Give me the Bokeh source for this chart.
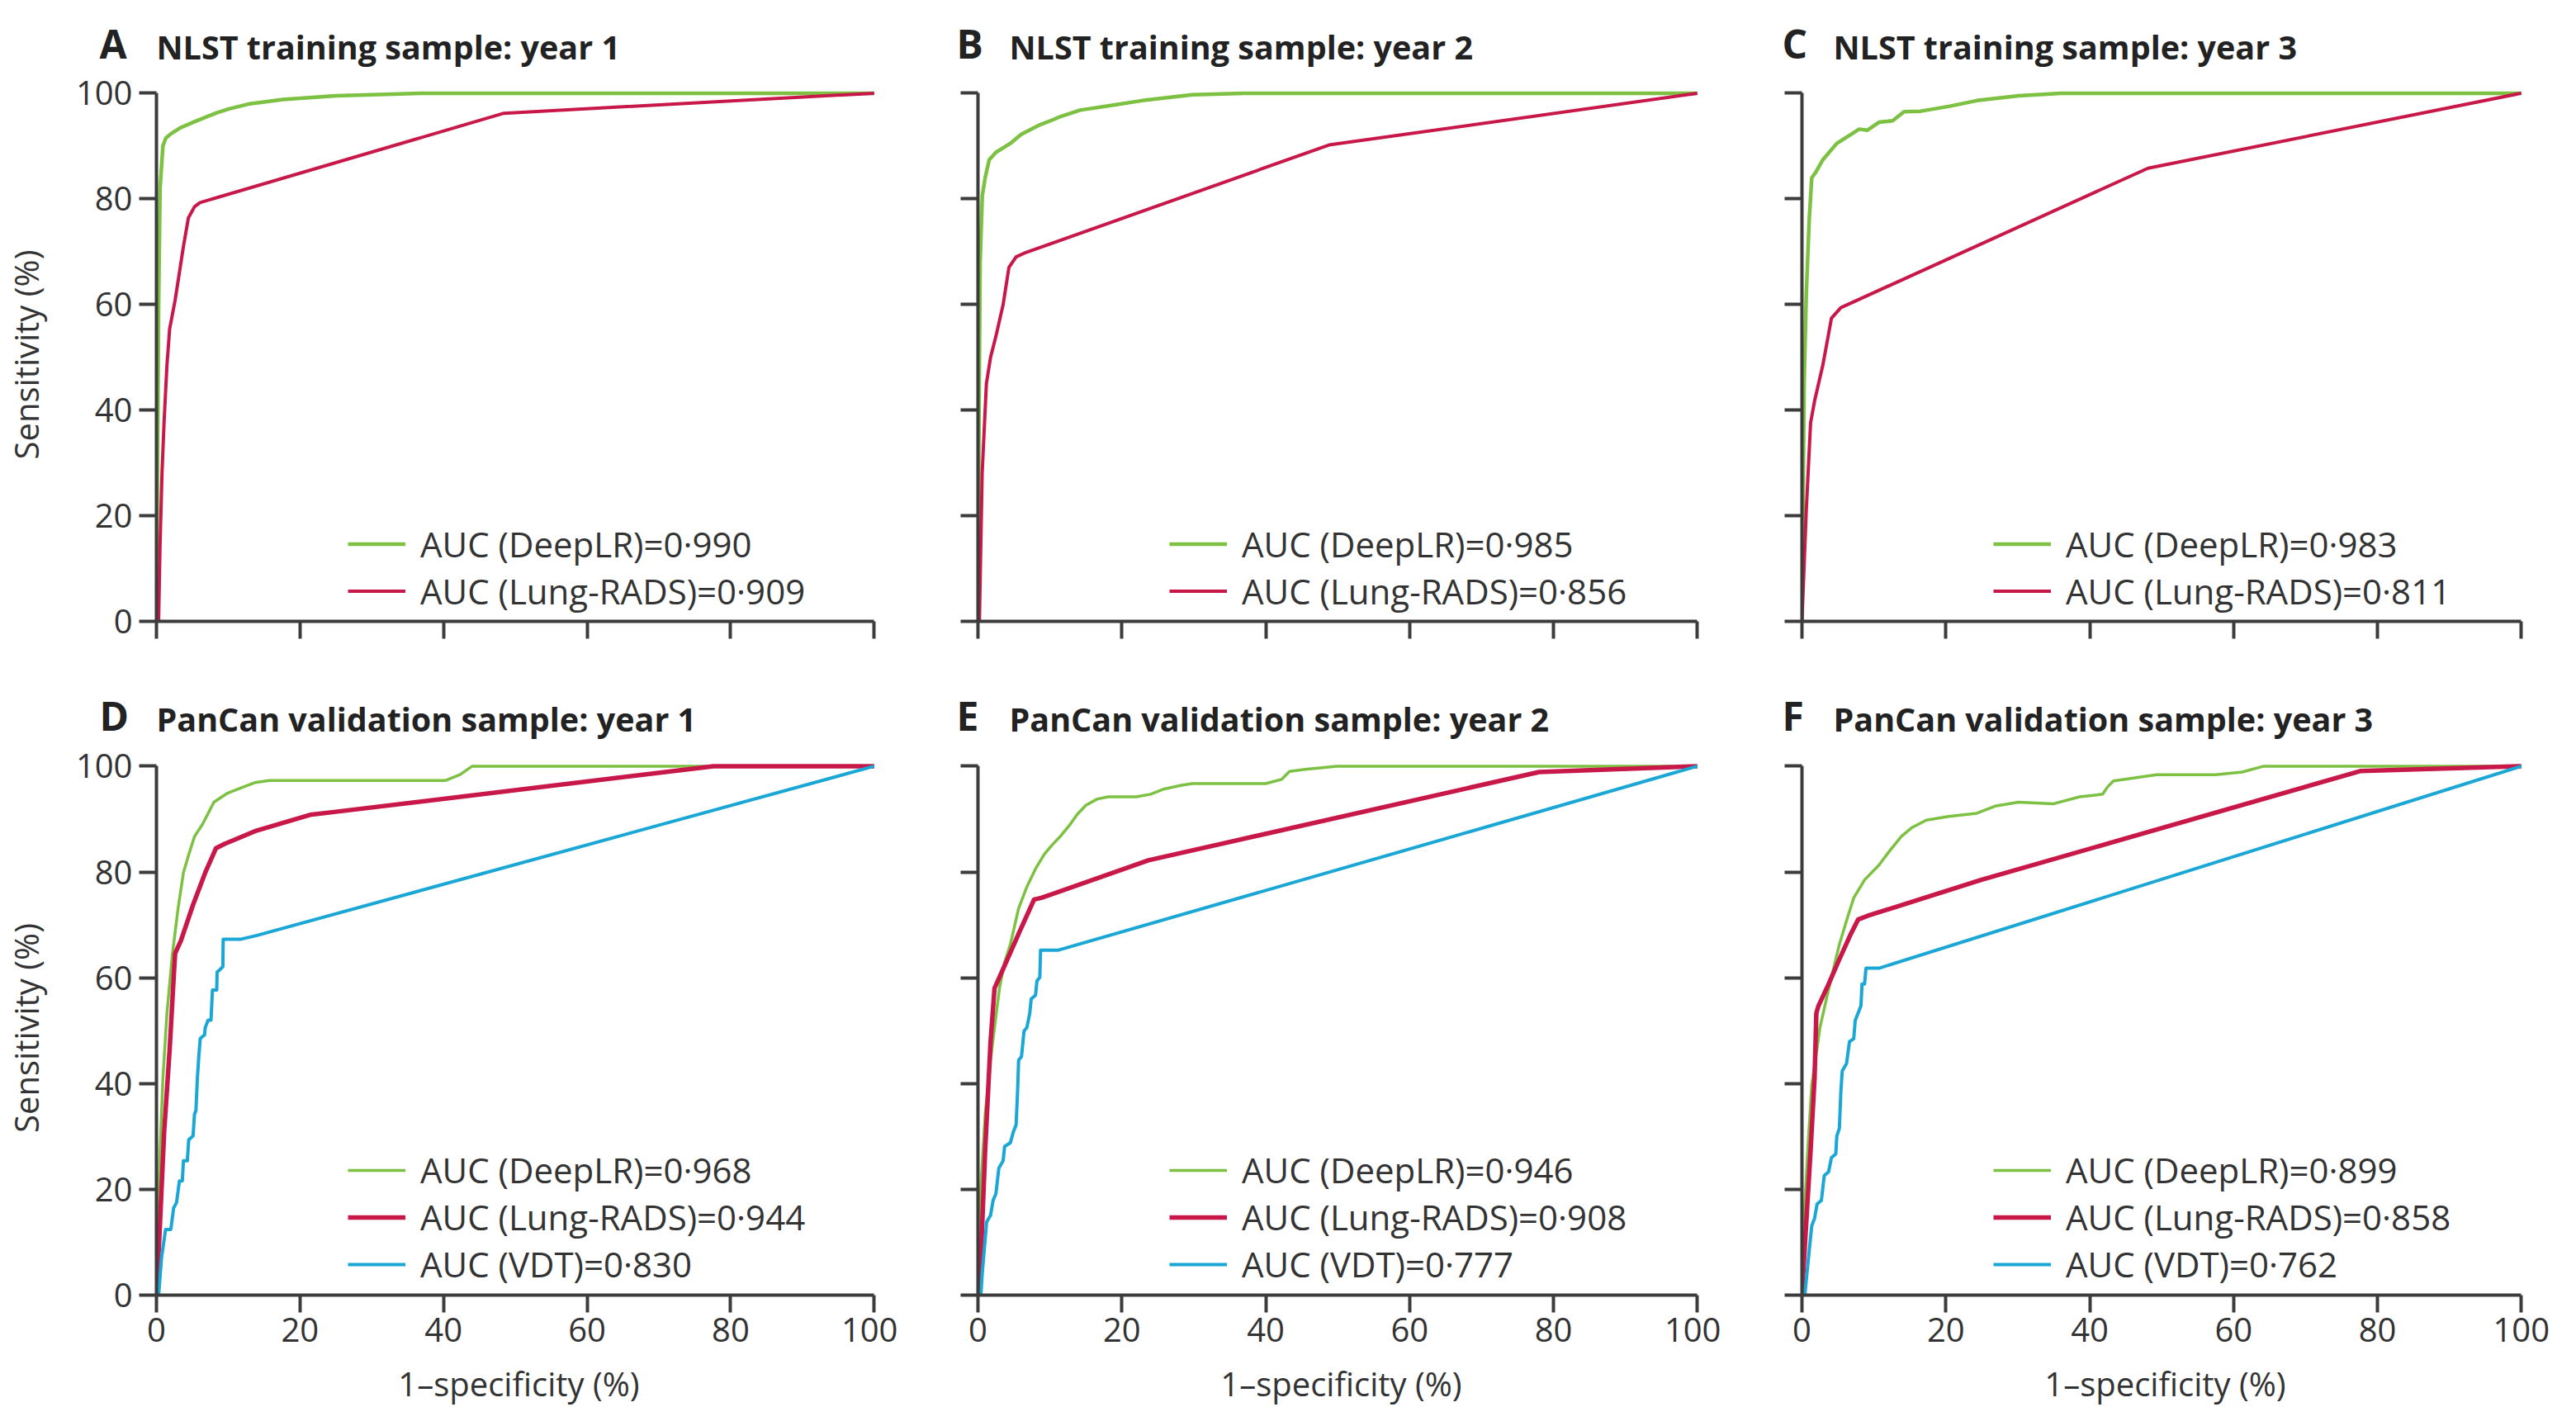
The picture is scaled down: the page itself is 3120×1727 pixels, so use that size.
from bokeh.plotting import figure
from bokeh.layouts import row, column
from bokeh.models import Range1d, Legend, LegendItem, FixedTicker
from bokeh.core.properties import value
from bokeh.embed import file_html
from bokeh.resources import INLINE

# ---------------- data ----------------
TICKS = [0, 20, 40, 60, 80, 100]

A_DEEP_X = [0, 0.3, 0.5, 0.9, 1.3, 2.0, 3.4, 5.3, 8.4, 10.0, 13.0, 17.6, 25.0, 37.0, 100]
A_DEEP_Y = [0, 60, 82, 90, 91.5, 92.3, 93.5, 94.6, 96.3, 97.0, 98.0, 98.8, 99.5, 100, 100]
A_RADS_X = [0, 0.3, 0.5, 0.77, 1.07, 1.46, 1.84, 2.6, 3.76, 4.45, 5.3, 6.07, 48.4, 100]
A_RADS_Y = [0, 0, 14.5, 28, 38, 48.5, 55.4, 60.8, 71, 76.4, 78.5, 79.3, 96.2, 100]

B_DEEP_X = [0, 0.15, 0.3, 0.6, 1.0, 1.56, 2.5, 4.5, 6.0, 8.4, 10.3, 11.5, 14.2, 18.1, 22.8, 29.8, 37.0, 100]
B_DEEP_Y = [0, 40, 68, 80.6, 84, 87.4, 88.8, 90.5, 92.2, 93.9, 94.9, 95.6, 96.8, 97.6, 98.6, 99.7, 100, 100]
B_RADS_X = [0, 0.2, 0.58, 1.17, 1.75, 2.5, 3.5, 4.3, 5.3, 6.4, 48.8, 100]
B_RADS_Y = [0, 0, 28, 45, 50, 54, 60, 67, 69, 69.7, 90.2, 100]

C_DEEP_X = [0, 0.3, 0.6, 1.0, 1.36, 1.9, 2.9, 4.85, 6.8, 7.96, 9.1, 10.7, 12.6, 14.2, 16.5, 20.4, 24.3, 30.1, 36.0, 100]
C_DEEP_Y = [0, 45, 62, 75.8, 84, 85, 87.4, 90.5, 92.2, 93.2, 93, 94.5, 94.8, 96.5, 96.6, 97.5, 98.6, 99.5, 100, 100]
C_RADS_X = [0, 0.6, 1.2, 1.75, 2.9, 4.1, 5.4, 48.1, 100]
C_RADS_Y = [0, 21, 37.6, 41.7, 48.5, 57.4, 59.4, 85.8, 100]

D_DEEP_X = [0, 0.5, 0.9, 1.46, 2.2, 3.0, 3.76, 4.5, 5.3, 6.45, 8.0, 9.9, 11.8, 13.7, 15.7, 40.3, 42.3, 44.0, 100]
D_DEEP_Y = [0, 27.4, 41, 53.3, 64.2, 73, 79.9, 83.3, 86.7, 89.1, 93.2, 94.9, 95.9, 96.9, 97.3, 97.3, 98.4, 100, 100]
D_RADS_X = [0, 0.5, 1.07, 1.84, 2.4, 2.6, 3.4, 5.1, 6.8, 8.3, 9.5, 13.7, 21.4, 24.5, 77.6, 100]
D_RADS_Y = [0, 13.8, 30.8, 46.5, 60.1, 64.6, 67, 73.8, 79.9, 84.5, 85.3, 87.7, 90.8, 91.3, 100, 100]
D_VDT_X = [0, 0.3, 0.7, 1.27, 2.0, 2.4, 2.8, 3.2, 3.6, 3.76, 4.3, 4.5, 5.1, 5.3, 5.5, 5.7, 5.9, 6.1,
           6.7, 6.8, 7.2, 7.6, 7.8, 8.4, 8.45, 8.75, 9.25, 9.3, 11.8, 14.0, 100]
D_VDT_Y = [0, 0, 7, 12.4, 12.4, 16.5, 17.5, 21.6, 21.6, 25.4, 25.4, 29.4, 30.1, 34.2, 34.9, 41, 45.1, 48.5,
           49.2, 50.6, 52, 52, 57.7, 57.7, 61.1, 61.4, 62.1, 67.3, 67.3, 68, 100]

E_DEEP_X = [0, 0.4, 1.0, 1.75, 2.3, 3.0, 3.7, 4.5, 5.65, 6.8, 8.0, 9.2, 10.3, 11.5, 12.7, 13.8, 15.0, 16.6,
            18.1, 22.0, 24.0, 25.9, 28.3, 29.8, 40.0, 42.2, 43.3, 45.5, 49.9, 100]
E_DEEP_Y = [0, 20.6, 34.2, 44.4, 50.6, 58.1, 62.9, 66.3, 73.1, 77.2, 80.6, 83.3, 85.1, 86.8, 88.8, 90.9, 92.6, 93.8,
            94.2, 94.2, 94.7, 95.7, 96.4, 96.7, 96.7, 97.5, 99, 99.4, 100, 100]
E_RADS_X = [0, 0.2, 1.0, 1.75, 2.3, 4.1, 5.65, 7.8, 8.8, 23.7, 78.0, 100]
E_RADS_Y = [0, 0, 27.4, 47.9, 58, 63.5, 68.3, 74.8, 75.1, 82.2, 98.9, 100]
E_VDT_X = [0, 0.4, 0.6, 1.2, 1.75, 2.1, 2.5, 2.9, 3.5, 3.7, 4.5, 4.9, 5.3, 5.5, 5.65, 6.05, 6.4, 6.8,
           7.2, 7.4, 8.0, 8.2, 8.6, 8.7, 11.1, 100]
E_VDT_Y = [0, 0, 4.2, 13.8, 15.1, 17.9, 19.2, 24, 25.4, 28.1, 28.8, 30.8, 32.2, 38.3, 44.4, 45.1, 49.9, 50.6,
           53.3, 56, 56.7, 59.4, 60.1, 65.2, 65.2, 100]

F_DEEP_X = [0, 0.4, 0.8, 1.36, 1.94, 2.5, 3.3, 4.1, 5.2, 6.4, 7.2, 8.7, 10.7, 12.2, 13.8, 15.3, 17.3, 20.4,
            24.3, 27.0, 30.1, 35.0, 38.6, 41.8, 42.5, 43.3, 49.3, 57.5, 61.2, 64.2, 100]
F_DEEP_Y = [0, 17.2, 27.4, 39.7, 45.1, 50.6, 55.4, 60.1, 66.3, 71.7, 75.1, 78.5, 81.3, 84, 86.7, 88.4, 89.8, 90.5,
            91.1, 92.5, 93.2, 92.9, 94.2, 94.7, 96.1, 97.2, 98.4, 98.4, 98.9, 100, 100]
F_RADS_X = [0, 0.6, 1.2, 1.75, 2.0, 2.3, 3.7, 5.2, 6.8, 7.8, 9.1, 24.9, 77.7, 100]
F_RADS_Y = [0, 13.8, 27.4, 41, 53.3, 54.7, 58.8, 63.5, 68.3, 71, 71.7, 78.5, 99.1, 100]
F_VDT_X = [0, 0.4, 0.8, 1.36, 1.75, 2.1, 2.7, 3.1, 3.7, 4.1, 4.7, 4.85, 5.2, 5.4, 5.6, 6.2, 6.6, 7.2,
           7.4, 7.8, 8.2, 8.35, 8.7, 8.9, 10.7, 100]
F_VDT_Y = [0, 0, 5.6, 13.1, 14.5, 17.2, 17.9, 22.6, 23.3, 26, 26.7, 30.1, 31.5, 38.3, 42.4, 43.8, 47.9, 48.5,
           51.9, 53.3, 54.7, 58.8, 58.8, 61.8, 61.8, 100]

LETTERS = ["A", "B", "C", "D", "E", "F"]
TITLES = ["NLST training sample: year 1", "NLST training sample: year 2", "NLST training sample: year 3",
          "PanCan validation sample: year 1", "PanCan validation sample: year 2", "PanCan validation sample: year 3"]
AUC_DEEP = ["0·990", "0·985", "0·983", "0·968", "0·946", "0·899"]
AUC_RADS = ["0·909", "0·856", "0·811", "0·944", "0·908", "0·858"]
AUC_VDT = [None, None, None, "0·830", "0·777", "0·762"]

CURVES = [
    (A_DEEP_X, A_DEEP_Y, A_RADS_X, A_RADS_Y, None, None),
    (B_DEEP_X, B_DEEP_Y, B_RADS_X, B_RADS_Y, None, None),
    (C_DEEP_X, C_DEEP_Y, C_RADS_X, C_RADS_Y, None, None),
    (D_DEEP_X, D_DEEP_Y, D_RADS_X, D_RADS_Y, D_VDT_X, D_VDT_Y),
    (E_DEEP_X, E_DEEP_Y, E_RADS_X, E_RADS_Y, E_VDT_X, E_VDT_Y),
    (F_DEEP_X, F_DEEP_Y, F_RADS_X, F_RADS_Y, F_VDT_X, F_VDT_Y),
]

# ---------------- style ----------------
FONT = "Open Sans"
GREEN = "#7cc142"
RED = "#c8184a"
CYAN = "#1aa7d6"
AXIS = "#3c3c3c"
TEXT = "#333333"
TITLE_COLOR = "#222222"

FRAME_W = 880
BORDER_L = [187, 97, 98]
BORDER_R = [20, 20, 30]
HEADER_H = [85, 88]
ROW_TOP = [21, 21]
ROW_FRAME_H = [646, 647]
ROW_BOTTOM = [60, 150]
LETTER_DX = [-67, -26, -24]
TITLE_DX = [2, 38, 38]
LETTER_MID = [33, 34]
TITLE_MID = [29, 30]


def width_of(c):
    return BORDER_L[c] + FRAME_W + BORDER_R[c]


def make_header(i):
    r, c = divmod(i, 3)
    w = width_of(c)
    hh = HEADER_H[r]
    h = figure(width=w, height=hh, x_range=Range1d(0, w), y_range=Range1d(0, hh),
               min_border=0, x_axis_location=None, y_axis_location=None,
               output_backend="svg", toolbar_location=None)
    h.outline_line_color = None
    h.grid.visible = False
    h.text(x=[BORDER_L[c] + LETTER_DX[c]], y=[LETTER_MID[r]], text=[LETTERS[i]],
           text_font=value(FONT), text_font_size="48px", text_font_style="bold",
           text_color=TITLE_COLOR, text_baseline="middle", text_align="left")
    h.text(x=[BORDER_L[c] + TITLE_DX[c]], y=[TITLE_MID[r]], text=[TITLES[i]],
           text_font=value(FONT), text_font_size="39.5px", text_font_style="bold",
           text_color=TITLE_COLOR, text_baseline="middle", text_align="left")
    return h


def make(i):
    r, c = divmod(i, 3)
    w = width_of(c)
    hgt = ROW_TOP[r] + ROW_FRAME_H[r] + ROW_BOTTOM[r]
    p = figure(width=w, height=hgt, x_range=Range1d(0, 101), y_range=Range1d(0, 101),
               min_border_left=BORDER_L[c], min_border_right=BORDER_R[c],
               min_border_top=ROW_TOP[r], min_border_bottom=ROW_BOTTOM[r],
               output_backend="svg", toolbar_location=None)
    p.outline_line_color = None
    p.grid.visible = False
    p.background_fill_color = "white"
    p.border_fill_color = "white"

    for ax in (p.xaxis[0], p.yaxis[0]):
        ax.ticker = FixedTicker(ticks=TICKS)
        ax.bounds = (0, 100)
        ax.axis_line_width = 4
        ax.axis_line_color = AXIS
        ax.major_tick_line_width = 4
        ax.major_tick_line_color = AXIS
        ax.major_tick_out = 21
        ax.major_tick_in = 0
        ax.minor_tick_line_color = None
        ax.major_label_text_font = FONT
        ax.major_label_text_font_size = "40px"
        ax.major_label_text_color = TEXT
        ax.axis_label_text_font = FONT
        ax.axis_label_text_font_size = "40px"
        ax.axis_label_text_font_style = "normal"
        ax.axis_label_text_color = TEXT

    p.yaxis.major_label_standoff = 8
    p.xaxis.major_label_standoff = 6
    if c == 0:
        p.yaxis.axis_label = "Sensitivity (%)"
        p.yaxis.axis_label_standoff = 30
    else:
        p.yaxis.major_label_overrides = {t: "" for t in TICKS}
    if r == 1:
        p.xaxis.axis_label = "1–specificity (%)"
        p.xaxis.axis_label_standoff = 20
    else:
        p.xaxis.major_label_overrides = {t: "" for t in TICKS}

    dx, dy, rx, ry, vx, vy = CURVES[i]
    gw, rw, cw = (4.5, 4, 4) if r == 0 else (3.5, 5.5, 4)
    g = p.line(dx, dy, line_color=GREEN, line_width=gw, line_join="round")
    rr = p.line(rx, ry, line_color=RED, line_width=rw, line_join="round")
    items = [LegendItem(label="AUC (DeepLR)=" + AUC_DEEP[i], renderers=[g]),
             LegendItem(label="AUC (Lung-RADS)=" + AUC_RADS[i], renderers=[rr])]
    if vx is not None:
        v = p.line(vx, vy, line_color=CYAN, line_width=cw, line_join="round")
        items.append(LegendItem(label="AUC (VDT)=" + AUC_VDT[i], renderers=[v]))

    rowh = 51 if r == 0 else 56
    leg = Legend(items=items, location=(232, 8 if r == 0 else 9), orientation="vertical",
                 border_line_color=None, background_fill_alpha=0, padding=0, margin=0, spacing=0,
                 glyph_width=70, glyph_height=rowh, label_height=rowh, label_standoff=18,
                 label_text_font=FONT, label_text_font_size="42px", label_text_color=TEXT,
                 label_text_baseline="middle")
    p.add_layout(leg)
    return p


headers = [make_header(i) for i in range(6)]
figs = [make(i) for i in range(6)]
layout = column(row(*headers[:3]), row(*figs[:3]), row(*headers[3:]), row(*figs[3:]))
open("out.html", "w").write(file_html(layout, INLINE))
